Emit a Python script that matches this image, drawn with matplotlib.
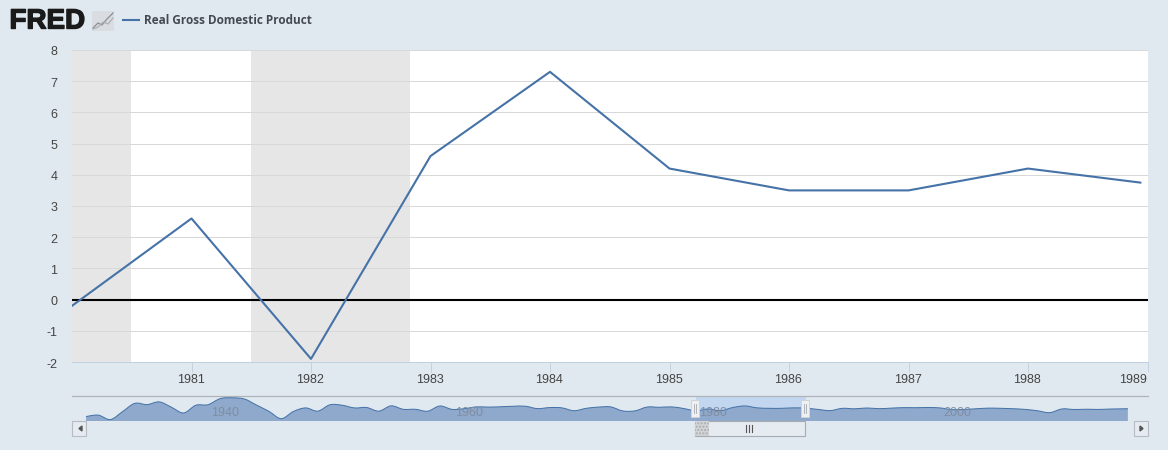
import matplotlib
matplotlib.use("Agg")
import matplotlib.pyplot as plt
import matplotlib.patheffects as pe
from matplotlib.path import Path
from matplotlib.patches import PathPatch, Rectangle
from matplotlib.transforms import Affine2D

W, H = 1168, 450
BG = "#e1e9f0"
LINE = "#4572a7"

years = [1980, 1981, 1982, 1983, 1984, 1985, 1986, 1987, 1988, 1988.94]
gdp = [-0.2, 2.6, -1.9, 4.6, 7.3, 4.2, 3.5, 3.5, 4.2, 3.75]
recessions = [(1980.0, 1980.49), (1981.5, 1982.83)]
y_ticks = [-2, -1, 0, 1, 2, 3, 4, 5, 6, 7, 8]
x_ticks = [1981, 1982, 1983, 1984, 1985, 1986, 1987, 1988, 1989]

# navigator series, one value per year
nav_years = list(range(1930, 2015)) + [2015.4]
nav_gdp = [-8.5, -6.4, -12.9, -1.2, 10.8, 8.9, 12.9, 5.1, -3.3, 8.0,
           8.8, 17.7, 18.9, 17.0, 8.0, -1.0, -11.6, -1.1, 4.1, -0.6,
           8.7, 8.0, 4.1, 4.7, -0.6, 7.1, 2.1, 2.1, -0.7, 6.9,
           2.0, 3.0, 5.6, 5.3, 5.8, 6.5, 6.6, 3.1, 4.6, 4.2,
           0.0, 3.5, 5.3, 5.6, -0.3, -0.2, 5.4, 5.0, 5.6, 3.2,
           -0.2, 2.6, 0.0, 4.6, 7.0, 4.2, 3.5, 3.5, 4.2, 3.7,
           1.9, 0.2, 3.5, 2.8, 4.0, 3.0, 3.8, 4.5, 4.4, 4.7,
           4.1, 1.6, 1.9, 2.9, 3.8, 3.5, 2.9, 1.9, -0.1, -2.8,
           2.6, 1.8, 2.2, 1.9, 2.5, 2.9]
nav_labels = [1940, 1960, 1980, 2000]
legend_text = "Real Gross Domestic Product"

plt.rcParams["font.family"] = ["Liberation Sans", "DejaVu Sans"]
plt.rcParams["axes.unicode_minus"] = False


def px_axes(fig, left, top, right, bottom, **kw):
    return fig.add_axes([left / W, 1 - bottom / H, (right - left) / W, (bottom - top) / H], **kw)


def spline_path(xs, ys, close_to=None):
    verts = [(xs[0], ys[0])]
    codes = [Path.MOVETO]
    n = len(xs)
    for i in range(n - 1):
        x0, y0 = xs[max(i - 1, 0)], ys[max(i - 1, 0)]
        x3, y3 = xs[min(i + 2, n - 1)], ys[min(i + 2, n - 1)]
        verts += [(xs[i] + (xs[i + 1] - x0) / 6, ys[i] + (ys[i + 1] - y0) / 6),
                  (xs[i + 1] - (x3 - xs[i]) / 6, ys[i + 1] - (y3 - ys[i]) / 6),
                  (xs[i + 1], ys[i + 1])]
        codes += [Path.CURVE4] * 3
    if close_to is not None:
        verts += [(xs[-1], close_to), (xs[0], close_to), (xs[0], ys[0])]
        codes += [Path.LINETO, Path.LINETO, Path.CLOSEPOLY]
    return Path(verts, codes)


fig = plt.figure(figsize=(W / 100, H / 100), dpi=100, facecolor=BG)

# main chart
ax = px_axes(fig, 72, 50, 1148, 362)
ax.set_xlim(1980, 1989.004)
ax.set_ylim(-2, 8)
for a, b in recessions:
    ax.axvspan(a, b, color="#e6e6e6", lw=0, zorder=1)
ax.set_yticks(y_ticks)
ax.set_xticks(x_ticks)
ax.grid(axis="y", color="#d8d8d8", lw=0.72, zorder=2)
ax.axhline(0, color="black", lw=1.5, zorder=3)
ax.plot(years, gdp, color=LINE, lw=1.5, zorder=4, solid_joinstyle="round")
for s in ["top", "left", "right"]:
    ax.spines[s].set_visible(False)
ax.spines["bottom"].set_color("#c0d0e0")
ax.spines["bottom"].set_linewidth(0.72)
ax.tick_params(axis="y", length=0, pad=10.5, labelsize=9, labelcolor="#444444")
ax.tick_params(axis="x", length=7, width=0.72, color="#c8d2de", pad=1.8, labelsize=9, labelcolor="#444444")
ax.get_xticklabels()[-1].set_ha("right")
# nudge the labels by a pixel to sit where the original has them
for lab in ax.get_yticklabels():
    lab.set_transform(lab.get_transform() + Affine2D().translate(0, -1))
for lab in ax.get_xticklabels():
    lab.set_transform(lab.get_transform() + Affine2D().translate(-1, 0))

# navigator
nav = px_axes(fig, 72, 396, 1148, 421)
nav.set_xlim(1928.85, 2017.05)
nav.set_ylim(-15, 21.5)
nav.patch.set_alpha(0)
nav.axvspan(1980, 1989, color="#c2d6ef", lw=0, zorder=1)
nav.add_patch(PathPatch(spline_path(nav_years, nav_gdp, close_to=-15), fc="#8fa9cd", ec="none", zorder=2))
nav.add_patch(PathPatch(spline_path(nav_years, nav_gdp), fc="none", ec=LINE, lw=0.72, zorder=3))
for yr in nav_labels:
    nav.text(yr + 1.4, -2.9, str(yr), color="#808da0", fontsize=9, ha="center", va="center", zorder=4)
nav.set_xticks([])
nav.set_yticks([])
for s in ["left", "right", "bottom"]:
    nav.spines[s].set_visible(False)
nav.spines["top"].set_color("#b0b4ba")
nav.spines["top"].set_linewidth(0.9)

# overlay in pixels for the logo, legend and scrollbar
ov = fig.add_axes([0, 0, 1, 1])
ov.set_xlim(0, W)
ov.set_ylim(H, 0)
ov.axis("off")
ov.patch.set_alpha(0)

ov.text(9.5, 21.5, "FRED", fontsize=20, fontweight="bold", color="#1a1a1a", va="center", ha="left",
        path_effects=[pe.withStroke(linewidth=1.0, foreground="#1a1a1a")])
ov.add_patch(Rectangle((92, 11), 22, 20, fc="#d9dde1", ec="none"))
ov.plot([93, 98, 102, 107, 113], [28, 23, 25, 19, 13], color="#8a9096", lw=0.9)
ov.plot([93, 98, 103, 108, 113], [29, 27, 22, 24, 18], color="#aab0b6", lw=0.9)
ov.plot([123, 139], [20, 20], color=LINE, lw=1.5)
ov.text(144, 20, legend_text, fontsize=8.5, fontweight="bold", color="#454a50", va="center", ha="left",
        family=["Open Sans"])

# scrollbar
for x0 in (72, 1134):
    ov.add_patch(Rectangle((x0, 421), 14, 15, fc="#e6ebf1", ec="#b8bcc2", lw=0.8))
ov.fill([82, 82, 79], [426, 431, 428.5], color="#555555")
ov.fill([1140, 1140, 1143], [426, 431, 428.5], color="#555555")
ov.add_patch(Rectangle((695, 421), 110, 15, fc="#e6ebf1", ec="#a8acb2", lw=0.8))
ov.add_patch(Rectangle((695, 421), 14, 15, fc="#d2d4d6", ec="#a8acb0", hatch=".....", lw=0))
for x0 in (746, 749, 752):
    ov.plot([x0, x0], [425, 432], color="#555555", lw=0.8)

# navigator handles
for x0 in (691, 801):
    ov.add_patch(Rectangle((x0, 400), 8, 17, fc="#eef0f2", ec="#d0d4d8", lw=0.7))
    for dx in (3, 5):
        ov.plot([x0 + dx, x0 + dx], [404, 413], color="#a4a8ae", lw=0.6)

fig.savefig("out.png", dpi=100, facecolor=BG)
